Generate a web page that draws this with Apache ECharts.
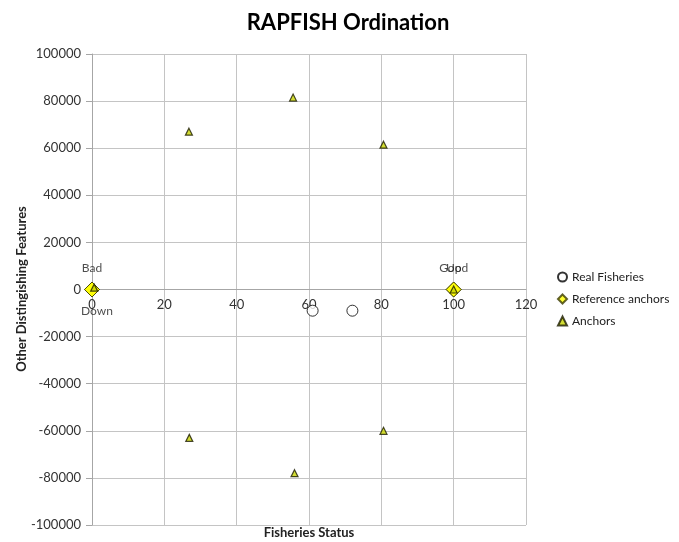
<!DOCTYPE html>
<html>
<head>
<meta charset="utf-8">
<script src="https://cdn.jsdelivr.net/npm/echarts@6/dist/echarts.min.js"></script>
<style>html,body{margin:0;padding:0;background:#fff;}#c{width:679px;height:542px;}</style>
</head>
<body>
<div id="c"></div>
<script>
const titleText = 'RAPFISH Ordination';
const xName = 'Fisheries Status';
const yName = 'Other Distingishing Features';

const realX = [61, 72];
const realY = [-9000, -9000];

const refNames = ['Good', 'Bad', 'Up', 'Down'];
const refX = [100, 0, 100, 0];
const refY = [0, 0, 0, 0];

const anchorX = [100, 0.6, 26.8, 55.6, 80.6, 26.9, 56.0, 80.6];
const anchorY = [0, 800, 67000, 81500, 61500, -63000, -78000, -60000];

const xTicks = [0, 20, 40, 60, 80, 100, 120];
const yTicks = [-100000, -80000, -60000, -40000, -20000, 0, 20000, 40000, 60000, 80000, 100000];

const font = 'Lato, "Open Sans", sans-serif';
const chart = echarts.init(document.getElementById('c'));
const below = { Down: true };

const option = {
  animation: false,
  textStyle: { fontFamily: font },
  title: {
    text: titleText, left: 343, top: 7, textAlign: 'center',
    textStyle: { fontSize: 22, fontWeight: 'bold', color: '#000', fontFamily: font }
  },
  legend: {
    orient: 'vertical', left: 552, top: 266, itemGap: 10,
    itemWidth: 9, itemHeight: 9,
    textStyle: { fontSize: 12, color: '#222', fontFamily: font },
    data: ['Real Fisheries', 'Reference anchors', 'Anchors']
  },
  grid: { left: 92, right: 153, top: 54, bottom: 17, containLabel: false },
  xAxis: {
    type: 'value', min: xTicks[0], max: xTicks[xTicks.length - 1], interval: 20,
    offset: 0,
    axisLine: { onZero: true, lineStyle: { color: '#a6a6a6' } },
    axisTick: { show: false },
    axisLabel: { fontSize: 13, color: '#333', margin: 7, formatter: v => String(v) },
    splitLine: { show: true, lineStyle: { color: '#c4c4c4', width: 1 } }
  },
  yAxis: {
    type: 'value', min: yTicks[0], max: yTicks[yTicks.length - 1], interval: 20000,
    axisLine: { show: true, onZero: false, lineStyle: { color: '#a6a6a6' } },
    axisTick: { show: true, length: 6, lineStyle: { color: '#a6a6a6' } },
    axisLabel: { fontSize: 13, color: '#333', margin: 11, formatter: v => String(v) },
    splitLine: { show: true, lineStyle: { color: '#c4c4c4', width: 1 } }
  },
  graphic: [
    {
      type: 'text', x: 309, y: 526,
      style: { text: xName, font: 'bold 13px ' + font, fill: '#222', textAlign: 'center' }
    },
    {
      type: 'text', x: 22, y: 289, rotation: Math.PI / 2,
      style: { text: yName, font: 'bold 13px ' + font, fill: '#222', textAlign: 'center', textVerticalAlign: 'middle' }
    }
  ],
  series: [
    {
      name: 'Real Fisheries', type: 'scatter', symbol: 'circle', symbolSize: 11,
      itemStyle: { color: '#fff', borderColor: '#000', borderWidth: 1 },
      data: realX.map((x, i) => [x, realY[i]])
    },
    {
      name: 'Reference anchors', type: 'scatter', symbol: 'diamond', symbolSize: 15,
      itemStyle: { color: '#ffff00', borderColor: '#3a3a00', borderWidth: 1 },
      data: refNames.map((n, i) => ({
        name: n, value: [refX[i], refY[i]],
        label: {
          show: true, formatter: '{b}', position: below[n] ? 'bottom' : 'top',
          distance: below[n] ? 8 : 7, offset: below[n] ? [5, 0] : [0, 0],
          fontSize: 12, color: '#222', fontFamily: font
        }
      }))
    },
    {
      name: 'Anchors', type: 'scatter', symbol: 'triangle', symbolSize: 7,
      itemStyle: { color: '#c8d400', borderColor: '#1a1a00', borderWidth: 1.2 },
      data: anchorX.map((x, i) => [x, anchorY[i]])
    }
  ]
};
chart.setOption(option);

// Place the x axis on the y = 0 line (Excel style) using the library's own scale.
const yZero = chart.convertToPixel({ yAxisIndex: 0 }, 0);
const yBottom = chart.convertToPixel({ yAxisIndex: 0 }, yTicks[0]);
chart.setOption({ xAxis: { offset: yZero - yBottom } });
</script>
</body>
</html>
